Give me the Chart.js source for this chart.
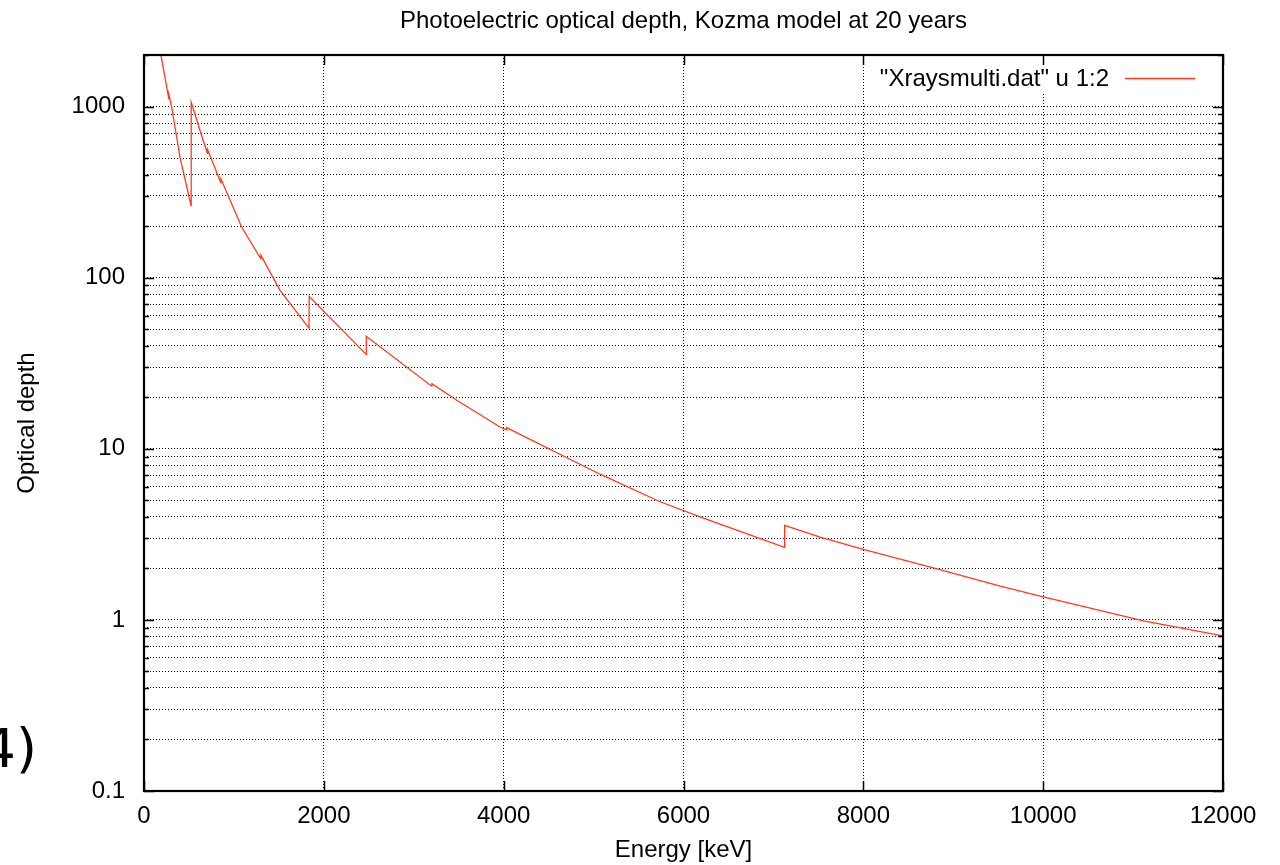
<!DOCTYPE html>
<html lang="en">
<head>
  <meta charset="UTF-8" />
  <title>Photoelectric optical depth</title>
  <script src="https://cdn.jsdelivr.net/npm/chart.js"></script>
  <style>
    body {
      margin: 0;
      background: #fff;
    }
    #wrap {
      width: 1280px;
      height: 865px;
    }
  </style>
</head>
<body>
  <div id="wrap"><canvas id="depthChart" width="1280" height="865"></canvas></div>

  <script>
    // energy [keV] and photoelectric optical depth (close pairs are absorption edges)
    const energy = [188, 276, 278, 308, 400, 523, 525, 623, 705, 707, 853, 855, 1087, 1298, 1300, 1513,
      1835, 1837, 2470, 2472, 3200, 3202, 3478, 3960, 4030, 4032, 5072, 5740, 6184, 7123, 7125,
      7520, 8000, 8800, 9522, 9967, 11116, 12000];
    const depth = [2000, 1110, 1170, 990, 506, 264, 1060, 724, 533, 560, 361, 378, 197, 129, 135, 84.3,
      50.7, 77.7, 35.6, 45.4, 23.2, 24.0, 19.2, 13.4, 12.9, 13.3, 7.10, 4.9, 4.00, 2.65, 3.57,
      3.05, 2.58, 2.0, 1.574, 1.377, 0.987, 0.807];

    const xTicks = [0, 2000, 4000, 6000, 8000, 10000, 12000];
    const yDecades = [0.1, 1, 10, 100, 1000];
    const yMin = 0.1, yMax = 2000;

    const FONT = "'Liberation Sans', Arial, Helvetica, sans-serif";
    const LINE_RED = '#ff3b1f';
    const TITLE = 'Photoelectric optical depth, Kozma model at 20 years';

    // minor ticks 2..9 inside every decade
    const yTickValues = [];
    yDecades.forEach(d => {
      for (let m = 1; m <= 9; m++) {
        const v = +(d * m).toPrecision(3);
        if (v <= yMax) yTickValues.push(v);
      }
    });
    if (!yTickValues.includes(yMax)) yTickValues.push(yMax);

    const points = energy.map((e, i) => ({ x: e, y: depth[i] }));

    // gnuplot style frame, inward tick marks, title, key and the stray "4)" label
    const framePlugin = {
      id: 'frame',
      afterDraw(chart) {
        const { ctx, chartArea: a, scales } = chart;
        const xs = scales.x, ys = scales.y;
        ctx.save();

        // title centred over the plot area
        ctx.fillStyle = '#000';
        ctx.font = '24px ' + FONT;
        ctx.textAlign = 'center';
        ctx.textBaseline = 'middle';
        ctx.fillText(TITLE, (a.left + a.right) / 2, 21);

        // key
        ctx.fillStyle = '#fff';
        ctx.fillRect(866, 63, 346, 30);
        ctx.fillStyle = '#000';
        ctx.textAlign = 'right';
        ctx.fillText('"Xraysmulti.dat" u 1:2', 1109, 79);
        ctx.strokeStyle = LINE_RED;
        ctx.lineWidth = 1.3;
        ctx.beginPath();
        ctx.moveTo(1125, 78.5);
        ctx.lineTo(1195, 78.5);
        ctx.stroke();

        // tick marks
        ctx.strokeStyle = '#000';
        ctx.lineWidth = 1.5;
        ctx.beginPath();
        yTickValues.forEach(v => {
          const y = Math.round(ys.getPixelForValue(v)) + 0.5;
          const len = yDecades.includes(v) ? 10 : 5;
          ctx.moveTo(a.left, y); ctx.lineTo(a.left + len, y);
          ctx.moveTo(a.right, y); ctx.lineTo(a.right - len, y);
        });
        xTicks.forEach(v => {
          const x = Math.round(xs.getPixelForValue(v)) + 0.5;
          ctx.moveTo(x, a.bottom); ctx.lineTo(x, a.bottom - 10);
          ctx.moveTo(x, a.top); ctx.lineTo(x, a.top + 10);
        });
        ctx.stroke();

        // border
        ctx.lineWidth = 2.2;
        ctx.strokeRect(a.left, a.top, a.right - a.left, a.bottom - a.top);

        ctx.font = '54px "DejaVu Sans", sans-serif';
        ctx.textAlign = 'right';
        ctx.textBaseline = 'alphabetic';
        ctx.fillText('4)', 37, 767);
        ctx.restore();
      }
    };

    new Chart(document.getElementById('depthChart'), {
      type: 'line',
      data: {
        datasets: [{
          label: '"Xraysmulti.dat" u 1:2',
          data: points,
          borderColor: LINE_RED,
          borderWidth: 1.3,
          pointRadius: 0,
          tension: 0,
          fill: false
        }]
      },
      options: {
        responsive: false,
        devicePixelRatio: 1,
        animation: false,
        layout: { padding: { left: 0, right: 57, top: 55, bottom: 0 } },
        plugins: {
          legend: { display: false },
          tooltip: { enabled: false },
          title: { display: false }
        },
        scales: {
          x: {
            type: 'linear',
            min: 0,
            max: 12000,
            afterBuildTicks: s => { s.ticks = xTicks.map(v => ({ value: v })); },
            afterFit: s => { s.height = 74; },
            ticks: {
              color: '#000',
              padding: 11,
              maxRotation: 0,
              font: { family: FONT, size: 24 },
              callback: v => String(v)
            },
            grid: { color: '#000', lineWidth: 1, drawTicks: false },
            border: { display: false, dash: [1, 2] },
            title: {
              display: true,
              text: 'Energy [keV]',
              color: '#000',
              font: { family: FONT, size: 24 },
              padding: { top: 0, bottom: 0 }
            }
          },
          y: {
            type: 'logarithmic',
            min: yMin,
            max: yMax,
            afterBuildTicks: s => { s.ticks = yTickValues.map(v => ({ value: v })); },
            afterFit: s => { s.width = 144; },
            ticks: {
              color: '#000',
              padding: 19,
              autoSkip: false,
              font: { family: FONT, size: 24 },
              callback: v => yDecades.includes(v) ? String(v) : ''
            },
            grid: { color: '#000', lineWidth: 1, drawTicks: false },
            border: { display: false, dash: [1, 2] },
            title: {
              display: true,
              text: 'Optical depth',
              color: '#000',
              font: { family: FONT, size: 24 },
              padding: { top: 13, bottom: 0 }
            }
          }
        }
      },
      plugins: [framePlugin]
    });
  </script>
</body>
</html>
